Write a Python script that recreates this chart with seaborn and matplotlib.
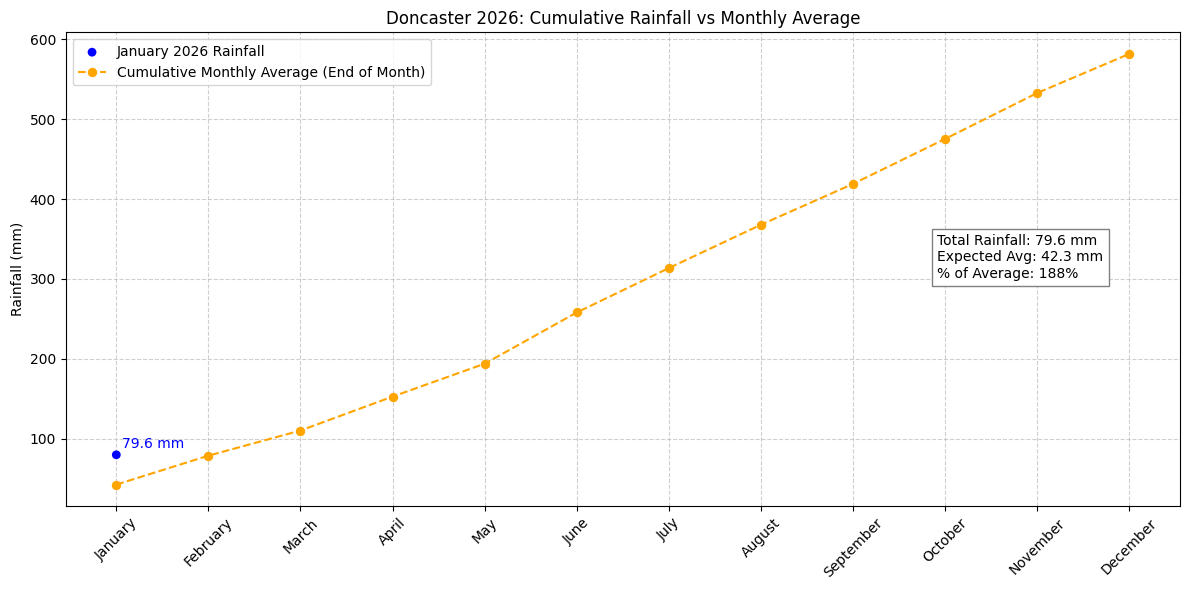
import numpy as np
import pandas as pd
import seaborn as sns
from matplotlib import pyplot as plt

months = ['January', 'February', 'March', 'April', 'May', 'June', 'July',
          'August', 'September', 'October', 'November', 'December']
cum_avg = [42.3, 78.5, 110.0, 152.5, 193.7, 257.9, 313.5, 367.8, 419.0, 475.3, 532.8, 581.8]
jan_rain = [79.6]
jan_month = ['January']

df_avg = pd.DataFrame({'month': months, 'cum': cum_avg})
df_jan = pd.DataFrame({'month': jan_month, 'rain': jan_rain})

fig, ax = plt.subplots(figsize=(12, 6), dpi=100)

sns.scatterplot(data=df_jan, x='month', y='rain', color='blue', s=40,
                edgecolor='none', label='January 2026 Rainfall', ax=ax, zorder=3)
sns.lineplot(data=df_avg, x='month', y='cum', color='orange', marker='o',
             markersize=6, markeredgecolor='orange', linestyle='--', sort=False,
             label='Cumulative Monthly Average (End of Month)', ax=ax)

ax.annotate(f'{jan_rain[0]} mm', (0, jan_rain[0]), xytext=(4, 5),
            textcoords='offset points', color='blue', fontsize=10)

pct = jan_rain[0] / cum_avg[0] * 100
ax.text(0.782, 0.525,
        f'Total Rainfall: {jan_rain[0]} mm\nExpected Avg: {cum_avg[0]} mm\n% of Average: {pct:.0f}%',
        transform=ax.transAxes, va='center', fontsize=10,
        bbox=dict(facecolor='white', edgecolor='gray', alpha=1))

ax.set_title('Doncaster 2026: Cumulative Rainfall vs Monthly Average')
ax.set_xlabel('')
ax.set_ylabel('Rainfall (mm)')
ax.grid(True, linestyle='--', alpha=0.6)
ax.legend(loc='upper left')
plt.xticks(rotation=45)
plt.tight_layout()
plt.savefig('out.png', bbox_inches='tight')
